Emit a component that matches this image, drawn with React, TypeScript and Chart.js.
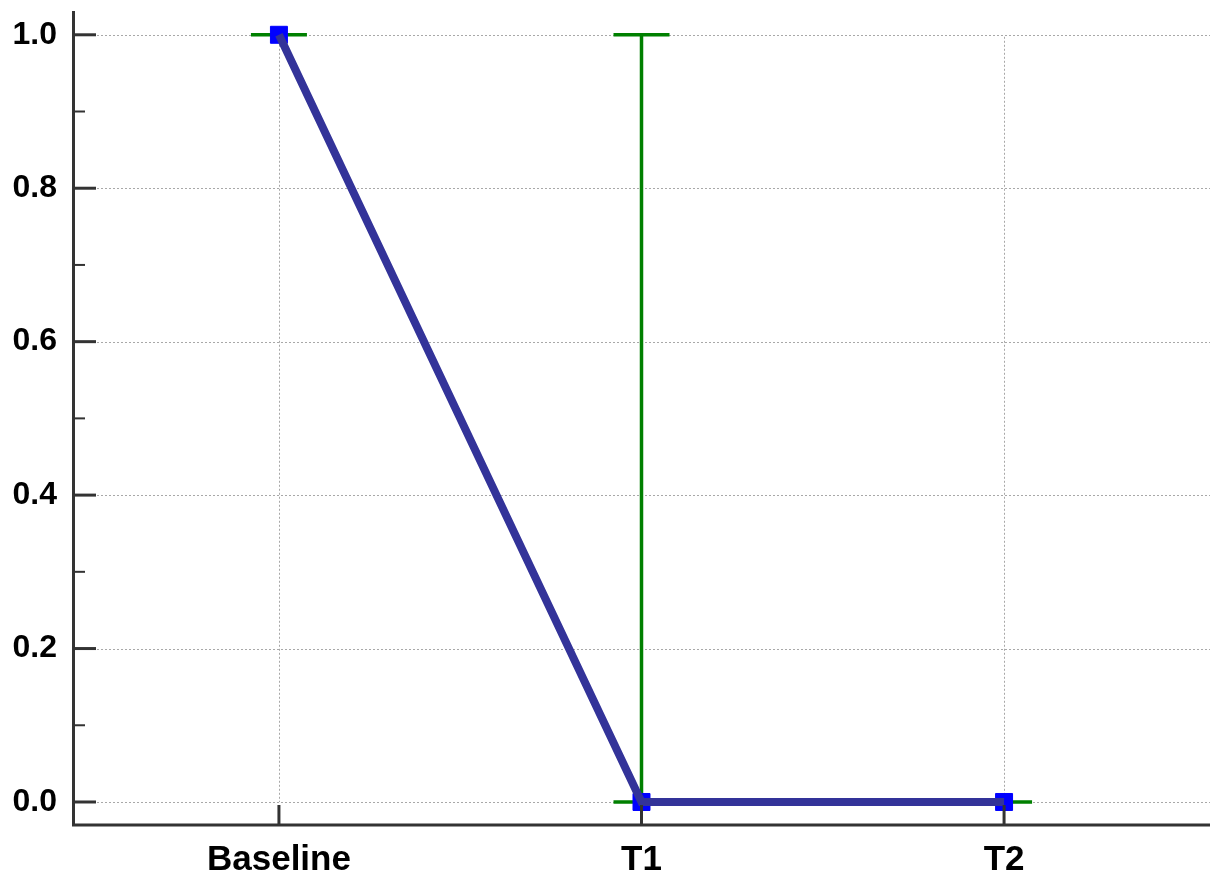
import React, { useEffect, useRef } from "react";
import { Chart, registerables } from "chart.js";

Chart.register(...registerables);

const categories = ["Baseline", "T1", "T2"];
const values = [1.0, 0.0, 0.0];
const errLower = [1.0, 0.0, 0.0];
const errUpper = [1.0, 1.0, 0.0];
const yMajorTicks = [0, 0.2, 0.4, 0.6, 0.8, 1.0];
const yMinorTicks = [0.1, 0.3, 0.5, 0.7, 0.9];

const FONT = "'Liberation Sans', Arial, Helvetica, sans-serif";

const decorPlugin = {
  id: "decor",
  beforeDatasetsDraw(chart: any) {
    const ctx = chart.ctx;
    const x = chart.scales.x;
    const y = chart.scales.y;
    const area = chart.chartArea;
    ctx.save();
    ctx.strokeStyle = "#a8a8a8";
    ctx.lineWidth = 1;
    ctx.setLineDash([2, 2]);
    for (const v of yMajorTicks) {
      const py = Math.round(y.getPixelForValue(v)) + 0.5;
      ctx.beginPath();
      ctx.moveTo(area.left, py);
      ctx.lineTo(area.right, py);
      ctx.stroke();
    }
    const yTop = y.getPixelForValue(Math.max(...yMajorTicks));
    const yBot = y.getPixelForValue(Math.min(...yMajorTicks));
    categories.forEach((_, i) => {
      const px = Math.round(x.getPixelForValue(i)) + 0.5;
      ctx.beginPath();
      ctx.moveTo(px, yTop + 2);
      ctx.lineTo(px, yBot);
      ctx.stroke();
    });
    ctx.setLineDash([]);
    ctx.strokeStyle = "#008000";
    ctx.lineWidth = 3.5;
    const capHalf = 28;
    categories.forEach((_, i) => {
      const px = x.getPixelForValue(i);
      const lo = y.getPixelForValue(errLower[i]);
      const hi = y.getPixelForValue(errUpper[i]);
      ctx.beginPath();
      ctx.moveTo(px, lo);
      ctx.lineTo(px, hi);
      ctx.moveTo(px - capHalf, lo);
      ctx.lineTo(px + capHalf, lo);
      ctx.moveTo(px - capHalf, hi);
      ctx.lineTo(px + capHalf, hi);
      ctx.stroke();
    });
    ctx.restore();
  },
  afterDatasetsDraw(chart: any) {
    const ctx = chart.ctx;
    const x = chart.scales.x;
    const y = chart.scales.y;
    const area = chart.chartArea;
    ctx.save();
    ctx.strokeStyle = "#333333";
    ctx.lineWidth = 3;
    ctx.beginPath();
    ctx.moveTo(area.left + 0.5, area.top);
    ctx.lineTo(area.left + 0.5, area.bottom + 1.5);
    ctx.moveTo(area.left - 1, area.bottom);
    ctx.lineTo(area.right, area.bottom);
    ctx.stroke();
    ctx.lineWidth = 3;
    for (const v of yMajorTicks) {
      const py = y.getPixelForValue(v);
      ctx.beginPath();
      ctx.moveTo(area.left, py);
      ctx.lineTo(area.left + 23, py);
      ctx.stroke();
    }
    ctx.lineWidth = 2;
    for (const v of yMinorTicks) {
      const py = y.getPixelForValue(v);
      ctx.beginPath();
      ctx.moveTo(area.left, py);
      ctx.lineTo(area.left + 12, py);
      ctx.stroke();
    }
    ctx.lineWidth = 3;
    categories.forEach((_, i) => {
      const px = x.getPixelForValue(i);
      ctx.beginPath();
      ctx.moveTo(px, area.bottom);
      ctx.lineTo(px, area.bottom - 20);
      ctx.stroke();
    });
    ctx.restore();
  },
};

const zeroPadding = (s: any) => {
  s.paddingTop = 0;
  s.paddingBottom = 0;
  s.paddingLeft = 0;
  s.paddingRight = 0;
};

export default function App() {
  const ref = useRef<HTMLCanvasElement | null>(null);
  useEffect(() => {
    if (!ref.current) return;
    const pts = categories.map((_, i) => ({ x: i, y: values[i] }));
    const chart = new Chart(ref.current, {
      type: "line",
      data: {
        datasets: [
          {
            label: "line",
            data: pts,
            borderColor: "#333399",
            borderWidth: 8,
            pointRadius: 0,
            fill: false,
            tension: 0,
            order: 0,
          },
          {
            label: "markers",
            data: pts,
            showLine: false,
            pointStyle: "rect",
            pointRadius: 12,
            pointHoverRadius: 12,
            backgroundColor: "#0000ff",
            borderColor: "#0000ff",
            pointBorderWidth: 1,
            order: 1,
          },
        ],
      },
      options: {
        animation: false,
        responsive: false,
        maintainAspectRatio: false,
        layout: { autoPadding: false, padding: { top: 11, left: 0, right: 0, bottom: 0 } },
        plugins: {
          legend: { display: false },
          tooltip: { enabled: false },
        },
        scales: {
          x: {
            type: "linear",
            min: -0.568,
            max: 2.568,
            grid: { display: false, drawTicks: false },
            border: { display: false },
            afterBuildTicks: (s: any) => {
              s.ticks = categories.map((_, i) => ({ value: i }));
            },
            afterFit: (s: any) => {
              s.height = 50;
              zeroPadding(s);
            },
            ticks: {
              autoSkip: false,
              maxRotation: 0,
              minRotation: 0,
              padding: 14,
              color: "#000000",
              font: { family: FONT, size: 35, weight: "bold" },
              callback: (v: any) => categories[Math.round(Number(v))] ?? "",
            },
          },
          y: {
            type: "linear",
            min: -0.03,
            max: 1.031,
            grid: { display: false, drawTicks: false },
            border: { display: false },
            afterBuildTicks: (s: any) => {
              s.ticks = yMajorTicks.map((v) => ({ value: v }));
            },
            afterFit: (s: any) => {
              s.width = 73;
              zeroPadding(s);
            },
            ticks: {
              padding: 16,
              color: "#000000",
              font: { family: FONT, size: 32, weight: "bold" },
              callback: (v: any) => Number(v).toFixed(1),
            },
          },
        },
      },
      plugins: [decorPlugin],
    });
    return () => chart.destroy();
  }, []);
  return (
    <div style={{ position: "fixed", left: 0, top: 0, width: 1210, height: 875, background: "#ffffff" }}>
      <canvas ref={ref} width={1210} height={875} style={{ display: "block" }} />
    </div>
  );
}
